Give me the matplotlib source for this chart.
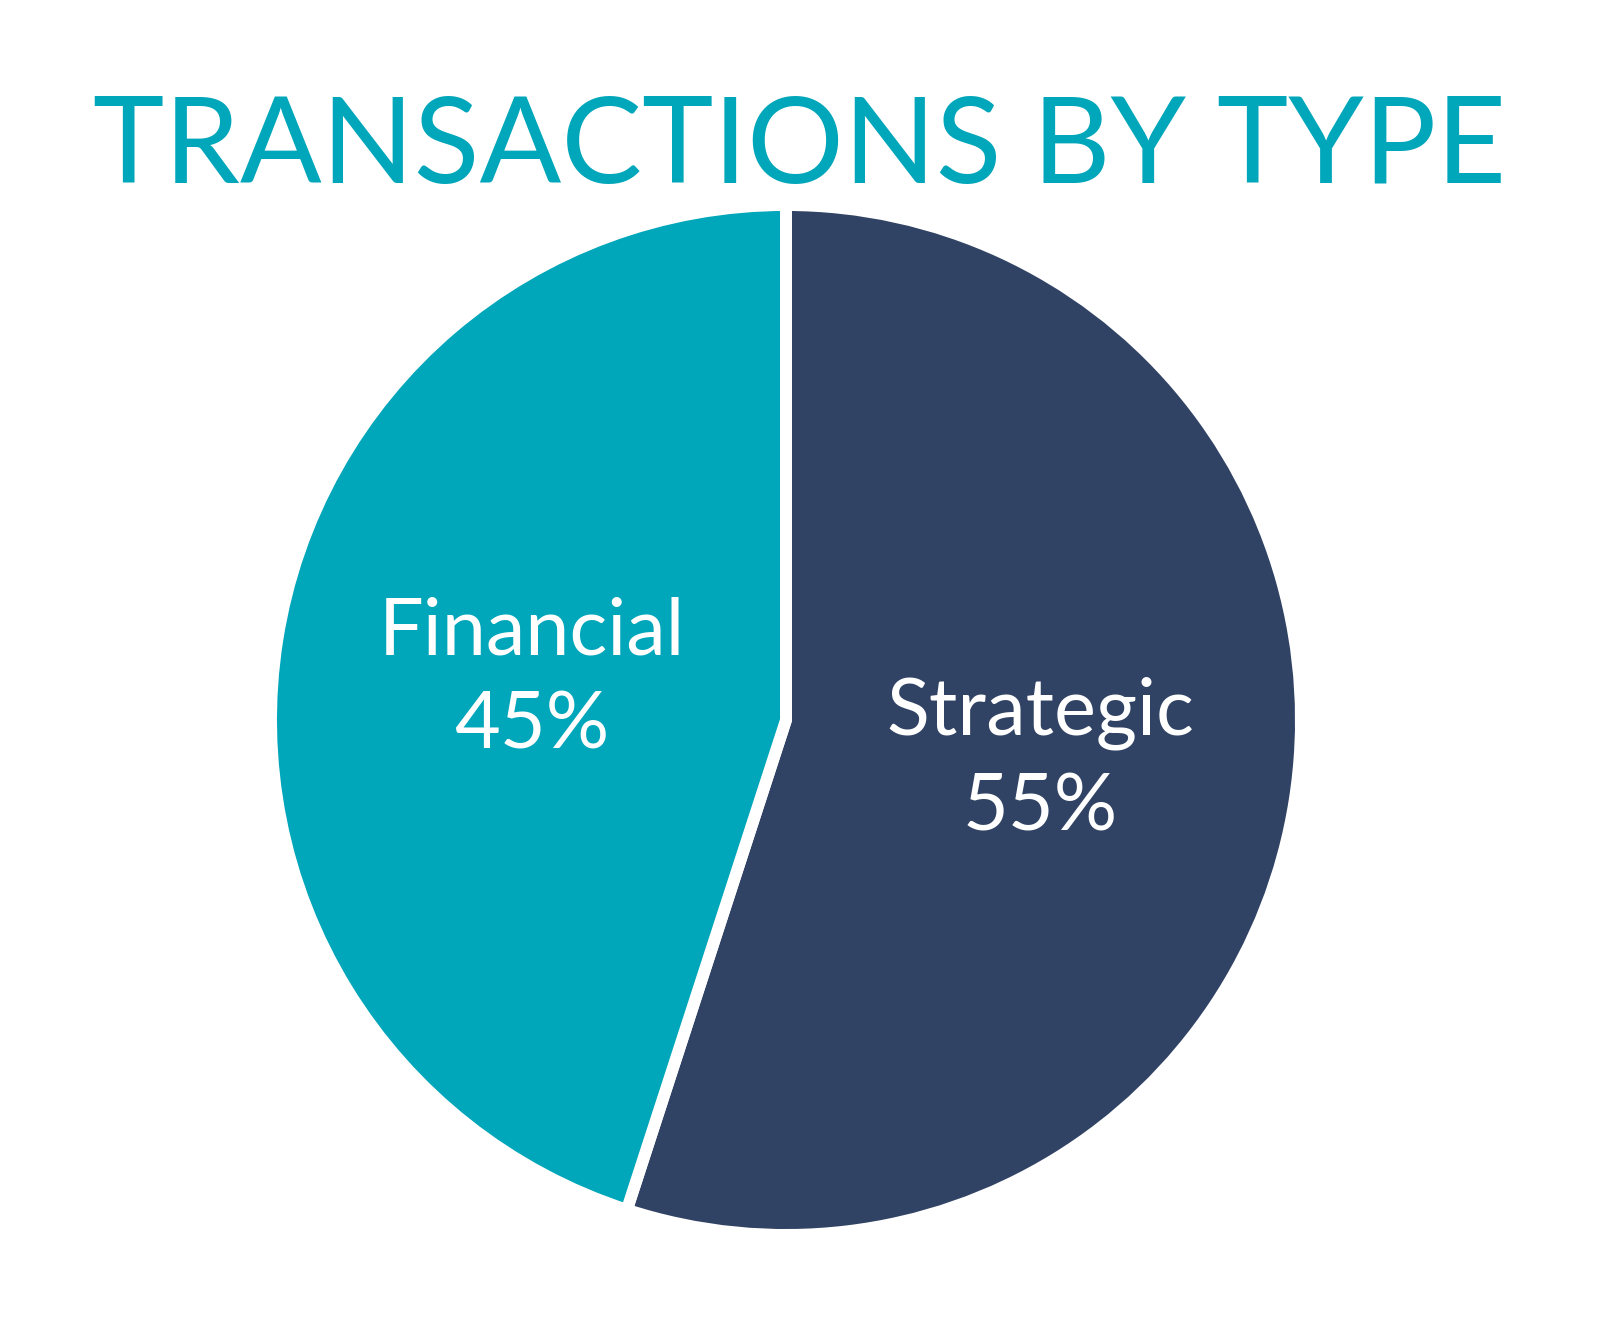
import matplotlib
matplotlib.use("Agg")
import matplotlib.pyplot as plt

title = "TRANSACTIONS BY TYPE"
categories = ["Strategic", "Financial"]
values = [55, 45]
colors = ["#314364", "#00A6B9"]
teal = "#00A6B9"

W, H = 1600, 1324
fig = plt.figure(figsize=(W / 100, H / 100), dpi=100)
fig.patch.set_facecolor("white")

cx, cy, R = 786, 720, 515
ax = fig.add_axes([(cx - R) / W, (H - cy - R) / H, 2 * R / W, 2 * R / H])
ax.set_xlim(-1, 1)
ax.set_ylim(-1, 1)
ax.axis("off")

labels = [f"{c}\n{v}%" for c, v in zip(categories, values)]
wedges, texts = ax.pie(values, colors=colors, startangle=90, counterclock=False,
                       labels=labels, labeldistance=0.5, radius=1,
                       wedgeprops=dict(edgecolor="white", linewidth=8.6, joinstyle="miter"),
                       textprops=dict(color="white", fontsize=57, family="Lato",
                                      linespacing=1.38))
for t in texts:
    t.set_ha("center")
    t.set_va("center")
ax.set_xlim(-1, 1)
ax.set_ylim(-1, 1)

fig.text(0.5, 1 - 150 / H, title, ha="center", va="center", color=teal,
         fontsize=87, family="Lato")

fig.savefig("out.png", dpi=100, facecolor="white")
